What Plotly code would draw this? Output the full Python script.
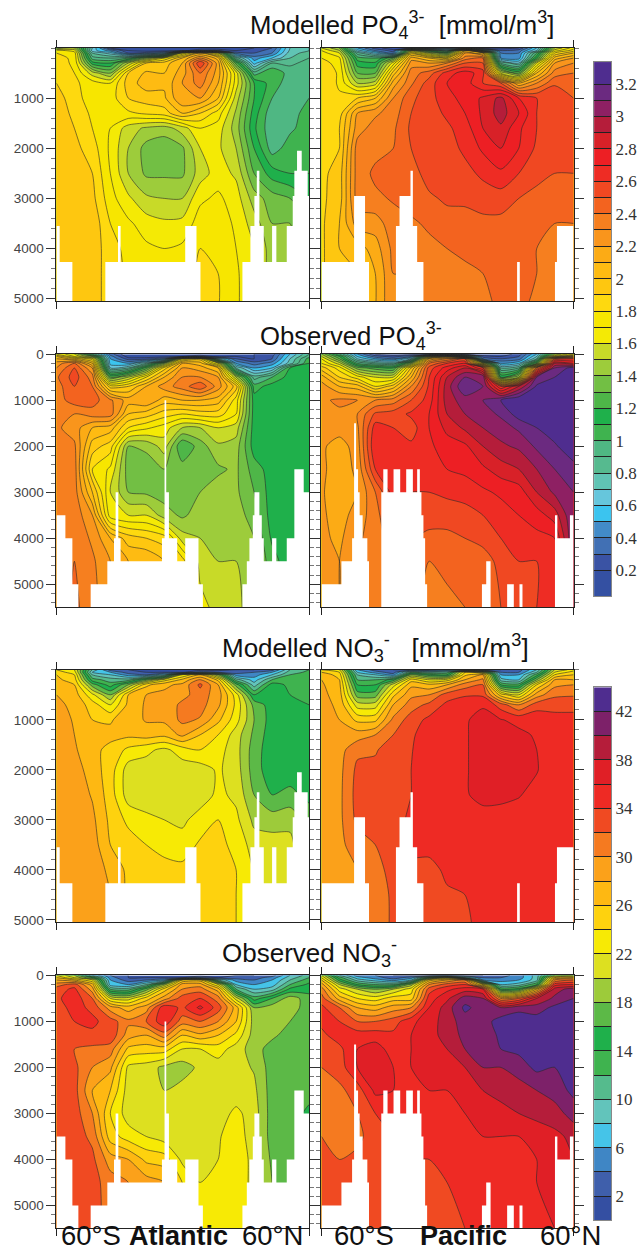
import plotly.graph_objects as go

W, H = 637, 1253
# section position (0-253 along the basin), depth levels (m)
section = [0, 18, 36, 54, 72, 90, 108, 126, 144, 162, 180, 198, 216, 234, 253]
depth = [0, 50, 100, 200, 300, 500, 700, 1000, 1300, 1600, 2000, 2500, 3000, 3500, 4000, 4500, 5500]

# each row is one depth profile (surface to bottom) at one section position
po4_model_atl = [
[1.4,1.75,1.8,1.85,1.85,1.88,1.9,1.95,1.97,1.97,1.97,1.97,1.97,1.97,1.97,1.97,1.97],
[1.5,1.65,1.75,1.77,1.78,1.8,1.82,1.84,1.87,1.9,1.93,1.96,1.97,1.97,1.97,1.97,1.97],
[0.7,0.65,0.8,0.95,1.15,1.55,1.75,1.75,1.78,1.8,1.85,1.9,1.93,1.97,1.95,1.95,1.95],
[0.2,0.45,0.65,0.9,1.1,1.4,1.7,1.75,1.75,1.7,1.68,1.7,1.74,1.8,1.85,1.85,1.85],
[0.15,0.2,0.3,1.0,1.5,1.9,1.95,1.9,1.78,1.55,1.5,1.5,1.62,1.72,1.76,1.78,1.78],
[0.1,0.15,0.35,1.4,1.9,2.02,2.05,1.95,1.82,1.48,1.36,1.38,1.52,1.65,1.72,1.75,1.75],
[0.1,0.15,0.5,1.7,1.95,2.0,2.02,1.98,1.85,1.45,1.33,1.38,1.5,1.62,1.7,1.72,1.72],
[0.1,0.15,1.6,2.0,2.1,2.15,2.2,2.2,2.0,1.55,1.38,1.38,1.5,1.63,1.72,1.75,1.75],
[0.1,0.3,2.0,2.3,2.6,2.4,2.35,2.2,1.9,1.7,1.6,1.55,1.68,1.75,1.8,1.82,1.82],
[0.1,0.3,1.6,2.05,2.15,2.15,2.1,2.0,1.75,1.65,1.62,1.65,1.72,1.76,1.78,1.8,1.8],
[0.15,0.2,0.35,0.85,1.25,1.65,1.65,1.55,1.48,1.45,1.5,1.58,1.65,1.68,1.7,1.72,1.72],
[0.2,0.25,0.3,0.45,0.55,0.95,1.2,1.2,1.15,1.12,1.2,1.3,1.45,1.55,1.6,1.6,1.6],
[0.3,0.35,0.4,0.6,0.9,1.1,1.05,1.0,0.93,0.92,0.95,1.15,1.35,1.4,1.45,1.45,1.45],
[0.7,0.72,0.75,0.8,0.88,0.95,0.95,0.95,0.95,0.98,1.05,1.1,1.3,1.4,1.42,1.42,1.42],
[0.8,0.8,0.85,0.9,0.93,0.92,0.95,1.0,1.05,1.05,1.05,1.1,1.2,1.3,1.3,1.3,1.3],
]
po4_model_pac = [
[1.6,1.7,1.75,1.8,1.85,1.9,1.9,1.87,1.87,1.87,1.87,1.87,1.88,1.88,1.88,1.88,1.88],
[1.4,1.5,1.6,1.72,1.75,1.78,1.78,1.82,1.85,1.9,1.9,1.95,1.95,2.0,2.0,2.0,2.0],
[0.5,0.65,0.85,1.05,1.15,1.3,1.5,1.9,2.2,2.25,2.35,2.35,2.35,2.25,2.05,2.0,2.0],
[0.25,0.4,0.6,1.0,1.12,1.3,1.55,2.0,2.28,2.35,2.37,2.42,2.38,2.25,2.15,2.1,2.1],
[0.12,0.25,0.35,1.3,1.65,1.95,2.15,2.3,2.35,2.38,2.4,2.42,2.41,2.36,2.33,2.3,2.3],
[0.12,1.5,1.85,2.15,2.25,2.35,2.38,2.48,2.5,2.52,2.5,2.45,2.45,2.38,2.33,2.3,2.3],
[0.12,1.1,1.5,2.0,2.2,2.45,2.55,2.55,2.55,2.55,2.55,2.55,2.48,2.42,2.37,2.32,2.32],
[0.3,0.8,1.25,1.85,2.3,2.65,2.7,2.68,2.62,2.58,2.56,2.55,2.52,2.45,2.4,2.37,2.35],
[0.1,2.0,2.2,2.35,2.5,2.75,2.75,2.72,2.7,2.65,2.62,2.57,2.52,2.46,2.42,2.38,2.36],
[0.1,1.0,2.0,2.4,2.5,2.65,2.6,2.82,2.82,2.8,2.72,2.62,2.55,2.47,2.42,2.4,2.38],
[0.15,0.3,0.4,0.5,0.9,1.6,2.5,2.93,2.95,2.88,2.8,2.68,2.55,2.47,2.42,2.42,2.4],
[0.2,0.35,0.4,0.45,0.7,1.3,2.1,2.7,2.8,2.72,2.7,2.6,2.5,2.45,2.42,2.42,2.4],
[0.6,0.7,1.0,1.2,1.6,2.0,2.3,2.6,2.6,2.6,2.58,2.52,2.48,2.42,2.4,2.4,2.4],
[1.5,1.65,1.8,2.05,2.2,2.35,2.48,2.6,2.57,2.55,2.52,2.5,2.45,2.4,2.38,2.38,2.38],
[1.75,1.85,2.0,2.2,2.3,2.4,2.5,2.5,2.52,2.52,2.52,2.5,2.45,2.4,2.38,2.38,2.38],
]
po4_obs_atl = [
[1.8,2.0,2.1,2.25,2.3,2.38,2.35,2.35,2.32,2.32,2.33,2.35,2.35,2.35,2.35,2.35,2.35],
[1.6,1.7,1.95,2.4,2.5,2.55,2.5,2.45,2.3,2.25,2.32,2.35,2.35,2.37,2.38,2.4,2.42],
[1.0,1.4,1.75,2.0,2.2,2.35,2.4,2.45,2.35,2.1,1.95,1.8,2.0,2.2,2.28,2.32,2.35],
[0.35,0.45,0.5,0.55,0.7,1.3,1.85,2.32,2.35,2.05,1.85,1.68,1.6,1.65,2.1,2.2,2.2],
[0.1,0.15,0.25,0.5,0.8,1.5,1.9,2.15,2.0,1.8,1.4,1.35,1.4,1.6,1.95,2.1,2.1],
[0.1,0.15,0.25,0.8,1.25,1.8,2.1,2.2,1.95,1.72,1.42,1.35,1.38,1.6,1.9,2.1,2.1],
[0.1,0.15,0.4,1.4,1.85,2.1,2.25,2.05,1.85,1.65,1.55,1.4,1.35,1.45,1.85,2.0,2.0],
[0.1,0.2,1.7,2.1,2.2,2.3,2.35,2.1,1.8,1.5,1.2,1.35,1.35,1.38,1.55,1.85,1.9],
[0.1,0.3,1.85,2.05,2.15,2.3,2.48,2.1,1.85,1.5,1.35,1.35,1.4,1.45,1.5,1.55,1.65],
[0.1,0.15,0.7,1.6,2.0,2.2,2.25,2.05,1.85,1.6,1.48,1.38,1.45,1.48,1.5,1.5,1.55],
[0.15,0.2,0.3,0.5,0.8,1.5,1.95,1.75,1.7,1.55,1.45,1.42,1.42,1.45,1.48,1.5,1.55],
[0.2,0.2,0.2,0.35,0.5,0.85,1.05,1.15,1.15,1.15,1.15,1.25,1.3,1.35,1.4,1.4,1.4],
[0.25,0.28,0.3,0.45,0.6,1.0,1.15,1.15,1.15,1.15,1.15,1.15,1.15,1.15,1.18,1.25,1.25],
[0.6,0.65,0.7,0.75,1.1,1.15,1.15,1.12,1.12,1.15,1.18,1.15,1.12,1.12,1.12,1.12,1.12],
[0.9,0.95,1.05,1.1,1.1,1.12,1.15,1.12,1.15,1.15,1.15,1.15,1.12,1.12,1.12,1.12,1.12],
]
po4_obs_pac = [
[1.5,1.6,1.7,1.8,1.95,2.15,2.25,2.28,2.25,2.25,2.22,2.22,2.22,2.22,2.22,2.22,2.22],
[1.0,1.2,1.3,1.55,1.75,1.9,2.1,2.32,2.28,2.25,2.15,2.15,2.1,2.15,2.18,2.2,2.2],
[0.5,0.6,0.7,1.0,1.35,1.75,2.05,2.3,2.3,2.28,2.25,2.22,2.2,2.25,2.28,2.3,2.3],
[0.2,0.35,0.5,0.85,1.25,1.6,1.8,2.3,2.52,2.65,2.7,2.6,2.4,2.35,2.35,2.37,2.38],
[0.15,0.25,0.4,0.8,1.2,1.6,1.95,2.35,2.55,2.6,2.65,2.68,2.65,2.55,2.45,2.4,2.4],
[0.15,0.4,0.7,1.4,1.9,2.1,2.3,2.5,2.62,2.55,2.62,2.65,2.6,2.55,2.5,2.45,2.42],
[0.15,1.6,2.1,2.4,2.55,2.6,2.62,2.65,2.7,2.7,2.68,2.65,2.6,2.55,2.47,2.4,2.38],
[0.12,1.9,2.3,2.6,2.75,2.9,2.95,2.95,2.9,2.83,2.75,2.7,2.62,2.55,2.47,2.42,2.38],
[0.12,1.2,2.5,2.7,2.9,3.1,3.2,3.05,3.0,2.92,2.78,2.72,2.65,2.55,2.5,2.47,2.4],
[0.12,0.25,0.4,1.6,2.6,3.1,3.1,3.1,3.05,3.0,2.9,2.78,2.68,2.6,2.52,2.47,2.42],
[0.12,0.2,0.3,0.5,0.8,1.2,2.6,3.2,3.12,3.05,2.98,2.85,2.72,2.65,2.6,2.52,2.5],
[0.25,0.3,0.35,0.6,0.9,1.5,2.9,3.3,3.25,3.12,3.02,2.9,2.75,2.7,2.62,2.6,2.6],
[0.6,0.7,0.8,1.3,2.4,3.1,3.22,3.3,3.28,3.2,3.12,3.0,2.9,2.75,2.67,2.6,2.6],
[1.5,1.8,2.5,2.9,3.1,3.2,3.25,3.3,3.3,3.28,3.18,3.1,3.02,2.85,2.7,2.65,2.65],
[1.8,2.2,2.6,2.8,3.25,3.28,3.28,3.3,3.3,3.3,3.3,3.15,3.1,3.1,3.1,3.1,3.1],
]
no3_model_atl = [
[24,25,26,26.5,27,28,28.5,29,29,29,29,29,29,29,29,29,29],
[22,23,24,25,26,27,27.5,27.8,28,28.3,29,29.3,29.5,29.5,29.5,29.5,29.5],
[10,8,10,13,17,22.5,25,26,26.5,26.5,27,27.8,28.5,29,29.2,29.3,29.3],
[3,6,8,11,13,18,22,25.8,26.5,25.5,25,25,25.5,26,27.5,28,28],
[2,3,5,11,18,26,26.5,27,26.5,23.5,21,21,23.5,25,25.5,25.5,25.5],
[1,2,4,17,25.5,28,28.3,28.2,27,22.5,21,20.8,22.5,24,25,25.2,25.2],
[1,2,8,23,27.5,28.5,28.6,28.4,26.5,21.5,20.6,20.8,22,23.5,24.5,25,25],
[1,1.5,22,26.5,28.5,29.3,30.5,30.5,28.5,23,20.9,20.8,21.5,23,24.5,25,25],
[1,5,26,30.2,32.5,31,30.8,29.8,26,24,21,20.8,23,24.3,24.9,25.2,25.2],
[1,4,18,25.5,28,29,28.5,26.5,24,22.8,22.3,22.5,24,24.5,24.8,25,25],
[2,3,5,11,17,23,23.5,22.8,21,20.8,21,21.5,22.5,23.5,24,24,24],
[2,4,5,7,9,14,17.3,18,17.5,17,17,18,19.5,21,21.8,21.8,21.8],
[3,6,8,12,15,15,15,15,14.8,14.7,14.7,16,19,21,21.5,21.5,21.5],
[10,11,12,13,13.5,14,14.5,14.8,14.8,14.8,15,16.5,19.5,20.5,21,21,21],
[12,12.5,13,13.5,13.5,13.5,14,14.5,14.7,14.8,15,15.5,17,18,18,18,18],
]
no3_model_pac = [
[24,26,27.5,28,28.3,28.6,28.8,29,29,29,29,29,29,29,29,29,29],
[22,24,25,26,26.5,27,27.5,28,28.8,29.2,29.4,29.5,29.5,29.5,29.5,29.5,29.5],
[6,8,10,12,14,17,21,25.5,29,31.5,32.5,32.8,32.5,31,30,29.8,29.8],
[3,5,8,12,14,17,21,25.5,30,31.8,32.5,33,33,32,31,30.5,30.5],
[2,3,5,15,21,25.5,28,30.5,32,33,33.3,33.5,33.6,33.7,33,32.5,32.5],
[2,12,18,25,27.5,29.5,31,33,33.7,33.9,34,34,34.2,34.2,33.8,33,33],
[2,10,15,22,26.5,30,32.5,34.5,35,35,35,35,35,34.5,33.5,33,33],
[4,11,14,23,28,33,34.5,35,35,35.2,35.3,35.2,35,35,34.3,33.8,33.5],
[2,24,25.5,28,31,33.8,35,35.9,35.9,35.9,35.9,35.9,35.2,35,34.8,34,33.8],
[2,20,28,30.5,32,33.6,35.9,36.3,36.4,36.4,36.4,36.3,35.6,35.2,35,34.8,34.2],
[2,4,6,9,14,25,33,36.1,36.4,36.4,36.4,36.3,35.5,35.3,35,35,35],
[3,4,6,8,13,22,30,35.5,36.4,36.4,36.3,36.1,35.3,35,35,35,35],
[8,10,13,18,24,29,33,35.5,35.8,36,36.1,35.5,35,35,35,35,35],
[20,22,24,28,29.5,31.5,33.5,34.5,35,35,35,35,35,35,35,35,35],
[23,25,26,28,30,31.7,33.8,34.2,34.5,35,35,35,35,35,35,35,35],
]
no3_obs_atl = [
[24,26,28,31,33,33.5,33,33,33,33,33,33,33,33,33,33,33],
[20,22,26,33,34.5,35.3,34.8,34,33.3,32,32.5,32.8,33,33,33,33,33],
[10,16,22,27,29,32,33.5,34.5,33.5,31.5,30,28,30,31.5,32.5,32.8,33],
[4,5,6,7,12,22,29,33,33.5,31,28.5,26,24,25,29,31,31],
[2,2,3,6,11,21,27,30.5,29,25.5,21.5,21,21,23,28,30,30],
[1,2,4,10,17,25,29,32,28,25,21,20.5,20.5,22,25.5,29,29],
[1,2,6,19,25,29,35.5,35.5,31,25,19.5,20,20.5,21,25,28,28],
[1,2,24,29,30,33,33.5,31,26,22,19,20.8,20.8,21,21.5,24,26],
[1,4,25,29,31,34,36.5,32,27.5,22,20.5,20.8,21,21,21,22,23],
[1,2,10,22,27,31,33,30,26,23,21,20.8,21,21.8,22,22.5,23],
[2,3,5,8,12,21,27,26,23.5,21,20.8,20.8,22.5,23,23,23,23],
[2,3,4,6,8,13,18,19,19,19,19.8,20.5,21,21,21.5,21.5,21.5],
[3,5,6,7,9,16,19,19,18.5,17,17,17,17,17,17.5,18,18],
[8,9,10,12,14.5,19,19,18,17,17,17,17,17,16.5,16.5,16.5,16.5],
[11,12,13,14.5,15,17,17,17,17,17,17,16.8,15.5,15.5,15.5,15.5,15.5],
]
no3_obs_pac = [
[22,24,26,29,31,33,34.5,34.5,33.5,32.5,32,31,31.5,32,32.5,33,33],
[10,13,15,20,23,27,32,34,35,33.5,33,31.5,31,31,32,32.5,33],
[5,7,9,14,20,24,28,32,35,36,36,33,32,31.5,32.5,33,33],
[4,5,7,12,18,23,27,32,35,37,37.5,36.5,34,33,33,33,33],
[2,3,5,12,20,25,29,33,34.5,35,36,36,35,34,33,33,33],
[2,5,8,19,23,25,30,35.5,36,36,36,36,36,35,34,33.5,33],
[2,15,25,30,33,35,36,37,37,37,36.5,36,35.5,35,34,33,32.5],
[2,22,28,33,35.5,37.5,39,39,39,38,37,36,35.5,35,34.5,34,33],
[2,10,30,34,37,41,42.5,41,40.5,40,38,37,36,35.5,35,34.5,34],
[2,4,6,24,36,40,41,41,40.5,40.5,40,38,37,36,35.5,35,34.5],
[3,4,5,8,14,30,40,43,42.5,42,40,38.5,37.5,36,35.5,35,35],
[5,5,6,9,15,32,41.5,43,43,42.5,41,39,38,36,36,35.8,35],
[9,9,9,14,26,38,41,43,43,43,42.5,40,38.5,37,36,36,36],
[20,26,30,35,39,40.5,42.5,43,43,43,42,41,39,37.5,37,36.5,36],
[22,28,32,36,41,42,42.5,43,43,43,43,42.5,41,38.5,38,38,38],
]

# sea-floor steps: edges along the section and the depth where land starts (None = open to the bottom)
bathy_model_atl_x = [0,3.3,16,49,61.7,64.3,129,140.3,144.3,186.3,194.3,198.3,200.7,203.3,207.7,216,220.3,230.7,236.7,238.3,241,245.7,251.7,253]
bathy_model_atl_d = [3550,4270,None,4270,3550,4270,3550,4270,None,4270,3550,2950,2450,3550,4270,3550,4270,3550,2950,2450,2050,2450,2950]
bathy_model_pac_x = [0,32.7,43.7,47.7,74.7,78.3,89.3,91.7,96,102.3,196.3,199,234.3,236.3,253]
bathy_model_pac_d = [4270,2950,4270,None,3550,2950,2450,3550,4270,None,4270,None,4270,3550]
bathy_obs_atl_x = [0,9,16,22,34.3,51,57.7,59.3,62,64.3,105.7,108.3,110,112.7,121,129,142.3,146.7,186.3,190.7,193.3,196.7,198.3,203.3,205.7,207.7,216,220.3,230.7,238.3,247.7,253]
bathy_obs_atl_d = [3500,4000,5000,None,5000,4500,4000,3000,4000,4500,4000,1000,3000,4000,4500,4000,5000,None,5000,4500,4000,3500,3000,3500,4000,4500,4000,4500,4000,2500,3000]
bathy_obs_pac_x = [0,20,30.7,32.7,34.7,36.7,38.3,41.3,46,47.7,60,62,66.3,72.3,79,85,91.7,96,98.7,100.3,102.3,104,106,161,165.3,169.7,186.3,193,198.7,201.7,234.3,236.7,249.3,253]
bathy_obs_pac_d = [5000,4500,4000,1500,2500,3000,3500,4000,4500,None,3000,2500,3000,2500,3000,2500,3000,2500,3000,3500,4000,5000,None,5000,4500,None,5000,None,5000,None,3500,4000,3500]

po4_colors = ["#3450a2","#3a53a4","#4170b4","#428bc8","#3bc4ef","#66c6dc","#60c4b4","#56ba8f",
"#4fb783","#3fb34f","#1fb04b","#4eb648","#72bf44","#9dcc3b","#c8da28","#f4ea05","#f7e600",
"#fed90f","#fec710","#febb12","#fcab15","#f9951c","#f67f1f","#f3631f","#f04822","#ee2c24","#ed1f24",
"#d82128","#b51d3a","#8e2063","#6b2a80","#4f2d8f"]
no3_colors = ["#344fa2","#3f5fab","#3f86c5","#45c4e8","#62c4bb","#55bb8d","#3fb34f","#1fb04b","#5cb947","#9dcb3a","#dde020",
"#f7ea05","#fed20e","#feb812","#fba11a","#f57a20","#f04a22","#ee2a24","#e01f26","#b51d3a","#7d2169","#4f2d8f"]
po4_levels = [0.2,0.3,0.4,0.5,0.6,0.7,0.8,0.9,1.0,1.1,1.2,1.3,1.4,1.5,1.6,1.7,1.8,1.9,2.0,2.1,2.2,2.3,2.4,2.5,2.6,2.7,2.8,2.9,3.0,3.1,3.2]
no3_levels = [2,4,6,8,10,12,14,16,18,20,22,24,26,28,30,32,34,36,38,40,42]
po4_ticks = ["0.2","0.4","0.6","0.8","1","1.2","1.4","1.6","1.8","2","2.2","2.4","2.6","2.8","3","3.2"]
no3_ticks = ["2","6","10","14","18","22","26","30","34","38","42"]
po4_ends = [0.04, 3.336]
no3_ends = [0, 44]

col_x = [(56.5, 309.5), (322, 574.5)]
rows = [
    (48, 301, 5050, [1000,2000,3000,4000,5000]),
    (354, 607, 5500, [0,1000,2000,3000,4000,5000]),
    (669.5, 922, 5050, [1000,2000,3000,4000,5000]),
    (975, 1228, 5500, [0,1000,2000,3000,4000,5000]),
]
panels = [
    (0,0,po4_model_atl,bathy_model_atl_x,bathy_model_atl_d,"po4"),
    (0,1,po4_model_pac,bathy_model_pac_x,bathy_model_pac_d,"po4"),
    (1,0,po4_obs_atl,bathy_obs_atl_x,bathy_obs_atl_d,"po4"),
    (1,1,po4_obs_pac,bathy_obs_pac_x,bathy_obs_pac_d,"po4"),
    (2,0,no3_model_atl,bathy_model_atl_x,bathy_model_atl_d,"no3"),
    (2,1,no3_model_pac,bathy_model_pac_x,bathy_model_pac_d,"no3"),
    (3,0,no3_obs_atl,bathy_obs_atl_x,bathy_obs_atl_d,"no3"),
    (3,1,no3_obs_pac,bathy_obs_pac_x,bathy_obs_pac_d,"no3"),
]

def scale(colors):
    n = len(colors) - 1
    return [[i / n, c] for i, c in enumerate(colors)]

def yfrac(p):
    # the drawn page area sits about 7 px in from the top and is 0.99 of the height
    return 1 - ((p - 6.97) / 0.99006) / H

fig = go.Figure()
AX = dict(showgrid=False, zeroline=False, showline=True, linecolor="#222", linewidth=1)
for idx, (r, c, cols, bx, bd, kind) in enumerate(panels):
    name = "" if idx == 0 else str(idx + 1)
    xa, ya = "x" + name, "y" + name
    top, bot, dmax, ticks = rows[r]
    left, right = col_x[c]
    z = [list(v) for v in zip(*cols)]
    if kind == "po4":
        cont = dict(start=0.2, end=3.2001, size=0.1, coloring="fill", showlines=True)
        colors = po4_colors
    else:
        cont = dict(start=2, end=42.001, size=2, coloring="fill", showlines=True)
        colors = no3_colors
    fig.add_trace(go.Contour(
        x=section, y=depth, z=z, xaxis=xa, yaxis=ya, autocontour=False, contours=cont,
        colorscale=scale(colors), showscale=False,
        line=dict(color="#2a2a2a", width=0.6, smoothing=0.7), hoverinfo="skip",
    ))
    # land as one white stepped outline drawn over the section
    lx, ly = [bx[0]], [dmax]
    for i, d in enumerate(bd):
        level = dmax if d is None else d
        lx += [bx[i], bx[i + 1]]
        ly += [level, level]
    lx.append(bx[-1])
    ly.append(dmax)
    fig.add_trace(go.Scatter(x=lx, y=ly, xaxis=xa, yaxis=ya, mode="lines", fill="toself",
                             fillcolor="white", line=dict(width=0, color="white"),
                             hoverinfo="skip", showlegend=False))
    fig.layout["xaxis" + name] = dict(
        AX, domain=[left / W, right / W], range=[0, 253], anchor=ya,
        tickmode="array", tickvals=[0, 253], showticklabels=False,
        ticks="outside", ticklen=7, tickcolor="#222", mirror="ticks",
    )
    fig.layout["yaxis" + name] = dict(
        AX, domain=[yfrac(bot), yfrac(top)], range=[dmax, 0], anchor=xa,
        tickmode="array", tickvals=ticks, showticklabels=c == 0,
        ticks="outside", ticklen=9, tickcolor="#333", mirror="ticks",
        tickfont=dict(family="Liberation Sans, Arial, sans-serif", size=13.5, color="#444"),
        minor=dict(tickmode="linear", tick0=0, dtick=200, ticks="outside", ticklen=4, tickcolor="#777"),
    )

# the two colour keys are small subplots of their own
keys = [(po4_colors, po4_levels, po4_ticks, po4_ends, 62, 596),
        (no3_colors, no3_levels, no3_ticks, no3_ends, 687, 1220)]
for k, (colors, levels, labels, ends, y0, y1) in enumerate(keys):
    name = str(9 + k)
    edges = [ends[0]] + levels + [ends[1]]
    fig.add_trace(go.Heatmap(z=[[i] for i in range(len(colors))], x=[0, 1], y=edges,
                             colorscale=scale(colors), zmin=0, zmax=len(colors) - 1, showscale=False,
                             xaxis="x" + name, yaxis="y" + name, hoverinfo="skip", xgap=0, ygap=0))
    fig.layout["xaxis" + name] = dict(domain=[595 / W, 612 / W], range=[0, 1], anchor="y" + name,
                                      showticklabels=False, ticks="", showgrid=False, zeroline=False,
                                      showline=True, mirror=True, linecolor="#888", linewidth=1)
    fig.layout["yaxis" + name] = dict(domain=[yfrac(y1), yfrac(y0)], range=ends, anchor="x" + name, side="right",
                                      tickmode="array", tickvals=[float(t) for t in labels], ticktext=labels,
                                      ticks="inside", ticklen=17, tickwidth=1, tickcolor="#222",
                                      minor=dict(tickmode="array", tickvals=levels, ticks="inside", ticklen=17,
                                                 tickwidth=1, tickcolor="#222"),
                                      tickfont=dict(family="Liberation Serif, serif", size=17, color="#333"),
                                      showgrid=False, zeroline=False, showline=True, mirror=True,
                                      linecolor="#888", linewidth=1)

def note(text, x, y, size, anchor="middle"):
    fig.add_annotation(xref="paper", yref="paper", x=x / W, y=yfrac(y), text=text, showarrow=False,
                       xanchor="left", yanchor=anchor, align="left",
                       font=dict(family="Liberation Sans, Arial, sans-serif", size=size, color="#111"))

note("Modelled PO<sub>4</sub><sup>3-</sup>  [mmol/m<sup>3</sup>]", 248, 25, 25.7)
note("Observed PO<sub>4</sub><sup>3-</sup>", 258, 336, 25.7)
note("Modelled NO<sub>3</sub><sup>-</sup>   [mmol/m<sup>3</sup>]", 220, 648, 26)
note("Observed NO<sub>3</sub><sup>-</sup>", 220, 953, 26)
note("60°S", 59, 1252.5, 27.5, "bottom")
note("<b>Atlantic</b>", 127, 1252.5, 27, "bottom")
note("60°N", 240, 1252.5, 27.5, "bottom")
note("60°S", 333, 1252.5, 27.5, "bottom")
note("<b>Pacific</b>", 419, 1252.5, 27, "bottom")
note("60°N", 539, 1252.5, 27.5, "bottom")

fig.update_layout(width=W, height=H, margin=dict(l=0, r=0, t=0, b=0, pad=0), autosize=False,
                  paper_bgcolor="white", plot_bgcolor="white", showlegend=False)
fig.write_html("out.html", config={"displayModeBar": False},
               post_script="document.body.style.margin='0';document.body.style.overflow='hidden';")
